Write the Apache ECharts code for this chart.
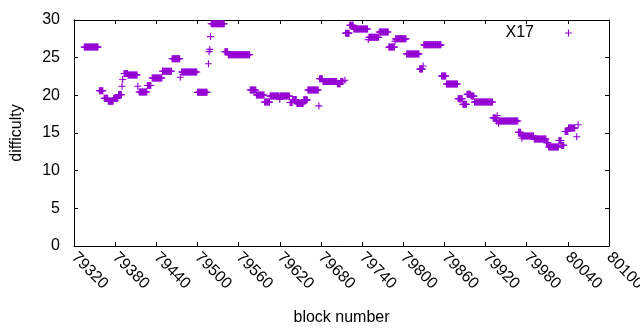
<!DOCTYPE html>
<html>
<head>
<meta charset="utf-8">
<script src="https://cdn.jsdelivr.net/npm/echarts@6/dist/echarts.min.js"></script>
<style>
html,body{margin:0;padding:0;background:#fff;}
#chart{width:640px;height:330px;}
</style>
</head>
<body>
<div id="chart"></div>
<script>
// Runs of blocks sharing the same difficulty (one marker per block)
var runStart = [79335,79357,79364,79370,79378,79385,79390,79391,79393,79399,79413,79415,79427,79434,79449,79463,79475,79477,79500,79516,79517,79518,79519,79520,79540,79545,79577,79586,79598,79606,79620,79621,79635,79639,79645,79655,79661,79677,79678,79683,79704,79709,79715,79716,79722,79728,79749,79750,79765,79779,79788,79789,79805,79824,79829,79830,79856,79863,79880,79887,79893,79899,79904,79931,79936,79937,79938,79939,79940,79968,79972,79973,79974,79991,80009,80012,80027,80031,80036,80041,80053,80055];
var runEnd   = [79355,79362,79369,79377,79384,79389,79390,79391,79398,79412,79413,79426,79432,79448,79462,79474,79475,79499,79514,79516,79517,79518,79519,79539,79544,79576,79585,79597,79605,79619,79620,79634,79638,79644,79654,79660,79676,79677,79682,79703,79708,79712,79715,79721,79727,79748,79749,79764,79778,79787,79788,79804,79823,79828,79829,79855,79862,79879,79886,79892,79898,79903,79930,79935,79936,79937,79938,79939,79967,79971,79972,79973,79990,80008,80011,80026,80030,80034,80040,80050,80053,80055];
var runValue = [26.4,20.6,19.6,19.2,19.6,20.1,21.2,22.1,22.9,22.7,21.2,20.45,21.3,22.3,23.2,24.85,22.4,23.1,20.4,24.2,25.8,26.1,27.8,29.5,25.8,25.4,20.7,20.05,19.1,19.9,19.45,19.9,19.05,19.45,18.9,19.4,20.7,18.6,22.2,21.85,21.55,21.85,22.0,28.25,29.3,28.8,27.4,27.7,28.4,26.4,27.2,27.5,25.5,23.5,23.9,26.7,22.55,21.5,19.55,18.8,20.15,19.9,19.1,17.0,16.6,17.3,16.6,16.3,16.6,15.1,14.6,14.3,14.6,14.2,13.7,13.15,14.0,13.35,15.2,15.65,14.5,16.1];
var seriesName = 'X17';
var xTickLabels = ['79320','79380','79440','79500','79560','79620','79680','79740','79800','79860','79920','79980','80040','80100'];
var yTickLabels = ['0','5','10','15','20','25','30'];

var points = [];
for (var i = 0; i < runStart.length; i++) {
  for (var b = runStart[i]; b <= runEnd[i]; b++) points.push([b, runValue[i]]);
}

var plus = 'path://M4.2,0 H5.8 V4.2 H10 V5.8 H5.8 V10 H4.2 V5.8 H0 V4.2 H4.2 Z';
var font = 'Liberation Sans';
var xMin = +xTickLabels[0], xMax = +xTickLabels[xTickLabels.length-1];
var yMin = +yTickLabels[0], yMax = +yTickLabels[yTickLabels.length-1];
var lineStyle = {color:'#000', width:1};

var chart = echarts.init(document.getElementById('chart'), null, {renderer:'canvas'});
chart.setOption({
  animation: false,
  backgroundColor: '#fff',
  textStyle: {fontFamily: font},
  grid: {left:74, right:31, top:20, bottom:84, show:false, containLabel:false, outerBoundsMode:'none'},
  legend: {
    data: [{name: seriesName, icon: plus}],
    right: 63, top: 20,
    align: 'right',
    itemWidth: 7, itemHeight: 7,
    selectedMode: false,
    textStyle: {fontFamily: font, fontSize: 16, color:'#000', padding:[0,26,0,0]}
  },
  xAxis: [{
    type:'value', min:xMin, max:xMax, interval:60, position:'bottom',
    name:'block number', nameLocation:'middle', nameGap:64,
    nameTextStyle:{fontFamily:font, fontSize:16, color:'#000'},
    axisLine:{show:true, onZero:false, lineStyle:lineStyle},
    axisTick:{show:true, inside:true, length:4, lineStyle:lineStyle},
    axisLabel:{show:true, rotate:-45, margin:9, interval:0, hideOverlap:false, fontFamily:font, fontSize:16, color:'#000',
      formatter:function(v){ var k = xTickLabels.indexOf(String(v)); return k>=0 ? xTickLabels[k] : String(v); }},
    splitLine:{show:false}
  },{
    type:'value', min:xMin, max:xMax, interval:60, position:'top',
    axisLine:{show:true, onZero:false, lineStyle:lineStyle},
    axisTick:{show:true, inside:true, length:4, lineStyle:lineStyle},
    axisLabel:{show:false}, splitLine:{show:false}
  }],
  yAxis: [{
    type:'value', min:yMin, max:yMax, interval:5, position:'left',
    name:'difficulty', nameLocation:'middle', nameGap:49, nameRotate:90,
    nameTextStyle:{fontFamily:font, fontSize:16, color:'#000'},
    axisLine:{show:true, onZero:false, lineStyle:lineStyle},
    axisTick:{show:true, inside:true, length:4, lineStyle:lineStyle},
    axisLabel:{show:true, margin:14, fontFamily:font, fontSize:16, color:'#000',
      formatter:function(v){ var k = yTickLabels.indexOf(String(v)); return k>=0 ? yTickLabels[k] : String(v); }},
    splitLine:{show:false}
  },{
    type:'value', min:yMin, max:yMax, interval:5, position:'right',
    axisLine:{show:true, onZero:false, lineStyle:lineStyle},
    axisTick:{show:true, inside:true, length:4, lineStyle:lineStyle},
    axisLabel:{show:false}, splitLine:{show:false}
  }],
  series: [{
    name: seriesName, type:'scatter', xAxisIndex:0, yAxisIndex:0,
    symbol: plus, symbolSize: 7,
    itemStyle: {color:'#9400d3', opacity:1},
    emphasis: {disabled:true},
    data: points
  }]
});
</script>
</body>
</html>
